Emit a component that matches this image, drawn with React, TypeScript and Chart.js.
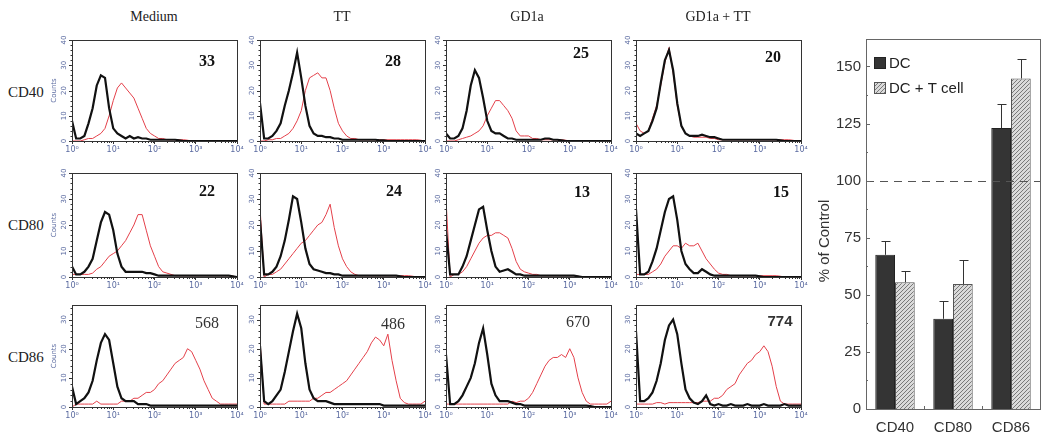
import React, { useEffect, useRef } from 'react';
import { Chart, registerables } from 'chart.js';

Chart.register(...registerables);

// ---------- DATA ----------
// histogram bins in log10 units (10^0 .. 10^4)
const BINS = [0, 0.1, 0.2, 0.3, 0.4, 0.5, 0.6, 0.7, 0.8, 0.9, 1, 1.1, 1.2, 1.3, 1.4, 1.5, 1.6, 1.7, 1.8, 1.9, 2, 2.1, 2.2, 2.3, 2.4, 2.5, 2.6, 2.7, 2.8, 2.9, 3, 3.1, 3.2, 3.3, 3.4, 3.5, 3.6, 3.7, 3.8, 3.9, 4];
const X_TICK_LABELS = ['10\u2070', '10\u00B9', '10\u00B2', '10\u00B3', '10\u2074'];
const CONDITIONS = ['Medium', 'TT', 'GD1a', 'GD1a + TT'];
const MARKERS = ['CD40', 'CD80', 'CD86'];
const MFI_LABELS = [
  ['33', '28', '25', '20'],
  ['22', '24', '13', '15'],
  ['568', '486', '670', '774'],
];
const ROW_Y_MAX = [40, 40, 35];

const CD40_MEDIUM_BLACK = [8, 1, 1, 2, 7, 13, 22, 26, 25, 13, 5, 3, 2, 1, 2, 1, 1.5, 1, 1, 0.5, 0.5, 0.5, 0.5, 0.5, 0.5, 0.5, 0.3, 0, 0, 0, 0, 0, 0, 0, 0, 0, 0, 0, 0, 0, 0];
const CD40_MEDIUM_RED = [0, 0, 0, 0.5, 1, 1, 2, 3, 5, 10, 16, 21, 23, 21, 19, 17, 13, 9, 5, 3, 2, 1, 1, 0.5, 0.5, 0.5, 0.5, 0.5, 0.3, 0, 0, 0, 0, 0, 0, 0, 0, 0, 0, 0, 0];
const CD40_TT_BLACK = [15, 1, 1, 2, 4, 7, 14, 20, 27, 35, 25, 14, 6, 3, 2, 2, 1.5, 1.5, 1, 1, 0.5, 0.5, 0.5, 0.5, 0.5, 0.5, 0.5, 0.5, 0.5, 0.3, 0.3, 0, 0, 0, 0, 0, 0, 0, 0, 0, 0];
const CD40_TT_RED = [0, 0, 0.5, 0.5, 1, 1, 2, 3, 5, 8, 12, 20, 25, 26, 27, 25, 25, 20, 13, 7, 4, 2, 1, 1, 0.5, 0.5, 0.5, 0.5, 0.5, 0.5, 0.5, 0.5, 0.5, 0.5, 0.5, 0.5, 0.5, 0.5, 0.5, 0.3, 0];
const CD40_GD1A_BLACK = [3, 1, 1, 2, 5, 12, 22, 28, 25, 17, 8, 4, 3, 3, 2, 1, 1, 0.5, 0.5, 0.5, 0.5, 0.5, 0.5, 0.5, 1, 1, 0.5, 0.5, 0.3, 0, 0, 0, 0, 0, 0, 0, 0, 0, 0, 0, 0];
const CD40_GD1A_RED = [0, 0, 0, 0.5, 1, 1.5, 2, 3, 4, 6, 10, 13, 16, 16, 14, 12, 9, 4, 2, 2, 2, 1, 1, 0.5, 0.5, 0.5, 0.5, 0.5, 0.5, 0.3, 0, 0, 0, 0, 0, 0, 0, 0, 0, 0, 0];
const CD40_GD1ATT_BLACK = [3, 2, 3, 4, 8, 13, 23, 32, 36, 28, 15, 6, 3, 2, 2, 2, 2.5, 2, 1.5, 1.5, 1, 0.5, 0.5, 0.5, 0.5, 0.5, 0.5, 0.5, 0.5, 0.5, 0.5, 0.5, 0.5, 0.5, 0.5, 0.3, 0, 0, 0, 0, 0];
const CD40_GD1ATT_RED = [7, 4, 3, 4, 9, 14, 22, 31, 37, 27, 14, 6, 3, 2, 1.5, 1.5, 1.5, 1.5, 1, 1, 0.5, 0.5, 0.5, 0.5, 0.5, 0.5, 0.5, 0.5, 0.5, 0.5, 0.5, 0.5, 0.5, 0.5, 0.5, 0.5, 0.5, 0.5, 0.3, 0, 0];

const CD80_MEDIUM_BLACK = [4, 1, 1, 2, 4, 7, 14, 21, 25, 24, 18, 9, 4, 2, 2, 2, 2, 2, 1.5, 1.5, 1, 0.5, 0.5, 0.5, 0.5, 0.5, 0.5, 0.5, 0.5, 0.5, 0.5, 0.5, 0.5, 0.5, 0.5, 0.5, 0.5, 0.5, 0.5, 0.3, 0];
const CD80_MEDIUM_RED = [1, 1, 1, 1, 1, 1.5, 3, 4, 6, 8, 9, 10, 12, 14, 17, 20, 24, 24, 18, 12, 8, 4, 2, 1.5, 1, 0.5, 0.5, 0.5, 0.5, 0.5, 0.5, 0.5, 0.5, 0.5, 0.5, 0.5, 0.5, 0.5, 0.5, 0.3, 0];
const CD80_TT_BLACK = [22, 1, 1, 2, 4, 8, 14, 22, 31, 30, 21, 11, 5, 3, 2.5, 2, 1.5, 1.5, 1, 1, 0.5, 0.5, 0.5, 0.5, 0.5, 0.5, 0.5, 0.5, 0.5, 0.5, 0.5, 0.5, 0.5, 0.5, 0.3, 0, 0, 0, 0, 0, 0];
const CD80_TT_RED = [27, 0, 1, 1, 2, 3, 5, 7, 9, 11, 13, 14, 16, 18, 20, 21, 24, 28, 19, 12, 7, 4, 2, 1, 0.5, 0.5, 0.5, 0.5, 0.5, 0.5, 0.5, 0.5, 0.5, 0.5, 0.5, 0.5, 0.5, 0.3, 0, 0, 0];
const CD80_GD1A_BLACK = [18, 1, 1, 1, 4, 8, 14, 20, 26, 27, 18, 10, 4, 2, 2.5, 3, 2, 1, 1, 0.5, 0.5, 0.5, 0.5, 0.5, 0.5, 0.5, 0.5, 0.5, 0.5, 0.5, 0.5, 0.5, 0.3, 0, 0, 0, 0, 0, 0, 0, 0];
const CD80_GD1A_RED = [30, 0, 1, 1, 2, 4, 7, 10, 13, 15, 16, 16, 17, 17, 16, 15, 11, 6, 3, 2, 1.5, 1, 1, 0.5, 0.5, 0.5, 0.5, 0.5, 0.5, 0.5, 0.5, 0.5, 0.3, 0, 0, 0, 0, 0, 0, 0, 0];
const CD80_GD1ATT_BLACK = [26, 1, 1, 2, 6, 11, 18, 25, 30, 31, 22, 10, 5, 3, 1.5, 1.5, 3, 2, 1, 0.5, 0.5, 0.5, 0.5, 0.5, 0.5, 0.5, 0.5, 0.5, 0.5, 0.5, 0.3, 0, 0, 0, 0, 0, 0, 0, 0, 0, 0];
const CD80_GD1ATT_RED = [1, 1, 1, 1, 2, 3, 5, 8, 10, 12, 12, 11, 13, 12, 12, 13, 10, 7, 5, 3, 1.5, 1, 1, 0.5, 0.5, 0.5, 0.5, 0.5, 0.5, 0.5, 0.5, 0.5, 0.5, 0.5, 0.5, 0.3, 0, 0, 0, 0, 0];

const CD86_MEDIUM_BLACK = [7, 1, 2, 3, 5, 9, 16, 22, 25, 23, 15, 7, 3, 2, 2, 2, 1, 1, 1, 0.5, 0.5, 0.5, 0.5, 0.5, 0.5, 0.5, 0.5, 0.5, 0.5, 0.5, 0.5, 0.5, 0.5, 0.5, 0.5, 0.5, 0.5, 0.5, 0.5, 0.5, 0.5];
const CD86_MEDIUM_RED = [0, 1, 1, 1, 1, 1, 2, 1, 1, 1, 1, 1, 2, 2, 2, 3, 3, 4, 5, 5, 6, 8, 9, 11, 13, 15, 16, 17, 20, 19, 16, 13, 9, 6, 3, 2, 1, 1, 1, 1, 1];
const CD86_TT_BLACK = [21, 2, 1, 2, 4, 6, 12, 19, 26, 32, 27, 15, 6, 3, 2, 2, 2, 1.5, 1, 1, 1, 1, 1, 1, 1, 1, 1, 1, 1, 1, 0.5, 0.5, 0.5, 0.5, 0.5, 0.5, 0.5, 0.5, 0.5, 0.5, 0.5];
const CD86_TT_RED = [23, 1, 1, 1, 1, 1, 1, 2, 2, 2, 2, 2, 2, 3, 3, 4, 5, 5, 6, 7, 8, 9, 11, 13, 15, 17, 19, 22, 24, 23, 21, 25, 16, 9, 3, 1.5, 1, 1, 1, 1, 2];
const CD86_GD1A_BLACK = [18, 1, 1, 2, 4, 7, 10, 15, 22, 27, 18, 8, 4, 2, 2, 2, 1.5, 1, 1, 0.5, 0.5, 0.5, 0.5, 0.5, 0.5, 0.5, 0.5, 0.5, 0.5, 0.5, 0.5, 0.5, 0.5, 0.5, 0.5, 0.3, 0, 0, 0, 0, 0];
const CD86_GD1A_RED = [1, 1, 1, 1, 1, 1, 1, 1, 1, 1, 1, 1, 1, 1, 1, 1, 2, 1.5, 2, 2, 3, 5, 8, 11, 14, 16, 17, 17, 18, 17, 20, 17, 10, 5, 2, 1, 1, 1, 1, 1, 2];
const CD86_GD1ATT_BLACK = [26, 2, 2, 3, 5, 9, 15, 23, 28, 30, 25, 15, 6, 3, 1.5, 1, 2, 4, 1, 0.5, 1, 0.5, 0.5, 1, 0.5, 0.5, 0.5, 1, 0.5, 0.5, 0.5, 1, 0.5, 0.5, 0.5, 0.5, 1, 0.5, 0.5, 0.5, 0.5];
const CD86_GD1ATT_RED = [1, 1, 1, 1, 1, 1.5, 1.5, 1, 1.5, 1.5, 1.5, 1.5, 1.5, 1.5, 1.5, 1.5, 2, 2, 2, 3, 3, 4, 6, 7, 8, 11, 13, 15, 16, 18, 19, 21, 19, 14, 7, 2, 1, 1, 1, 1, 1];

const PANELS = [
  [[CD40_MEDIUM_BLACK, CD40_MEDIUM_RED], [CD40_TT_BLACK, CD40_TT_RED], [CD40_GD1A_BLACK, CD40_GD1A_RED], [CD40_GD1ATT_BLACK, CD40_GD1ATT_RED]],
  [[CD80_MEDIUM_BLACK, CD80_MEDIUM_RED], [CD80_TT_BLACK, CD80_TT_RED], [CD80_GD1A_BLACK, CD80_GD1A_RED], [CD80_GD1ATT_BLACK, CD80_GD1ATT_RED]],
  [[CD86_MEDIUM_BLACK, CD86_MEDIUM_RED], [CD86_TT_BLACK, CD86_TT_RED], [CD86_GD1A_BLACK, CD86_GD1A_RED], [CD86_GD1ATT_BLACK, CD86_GD1ATT_RED]],
];

// bar chart
const BAR_CATEGORIES = ['CD40', 'CD80', 'CD86'];
const DC_VALUES = [67.5, 39.5, 123];
const DC_ERRORS = [6, 7.8, 10.5];
const DCT_VALUES = [55.5, 54.7, 144.7];
const DCT_ERRORS = [5, 10.4, 8.6];
const BAR_SERIES_LABELS = ['DC', 'DC + T cell'];
const BAR_Y_TITLE = '% of Control';
const BAR_Y_MAX = 162;
const BAR_Y_STEP = 25;
const REFERENCE_LEVEL = 100;

// ---------- LAYOUT ----------
const COL_LEFT = [72, 260, 446, 636];
const PLOT_W = 165;
const ROW_TOP = [40, 173, 305];
const ROW_H = [101, 104, 102];
const AXIS_W = 24;
const AXIS_H = 16;
const PAD_TOP = 5;
const PAD_RIGHT = 9;
const TITLE_X = [154, 342, 527, 718];
const MFI_POS = [
  [[207, 61], [393, 61], [581, 53], [773, 57]],
  [[207, 191], [394, 191], [582, 192], [781, 192]],
  [[207, 323], [393, 324], [578, 322], [780, 320]],
];
const ROW_LABEL_Y = [92, 225, 357];
const BAR_CANVAS = { left: 812, top: 25, width: 236, height: 418 };
const BAR_TITLE_X = 13;
const BAR_TITLE_DY = 17;

const SERIF = "'Liberation Serif', 'Times New Roman', serif";
const SANS = "'Liberation Sans', Arial, sans-serif";
const AXIS_BLUE = '#5a6aa0';

const panelDecor = {
  id: 'panelDecor',
  afterDraw(chart: any, _args: any, opts: any) {
    const { ctx, chartArea: a, scales } = chart;
    const x = scales.x;
    const y = scales.y;
    ctx.save();
    ctx.strokeStyle = '#333';
    ctx.lineWidth = 1;
    ctx.strokeRect(Math.round(a.left) + 0.5, Math.round(a.top) + 0.5, Math.round(a.right - a.left), Math.round(a.bottom - a.top));
    ctx.beginPath();
    for (let d = 0; d < 4; d++) {
      for (let k = 2; k < 10; k++) {
        const px = Math.round(x.getPixelForValue(d + Math.log10(k))) + 0.5;
        ctx.moveTo(px, a.bottom);
        ctx.lineTo(px, a.bottom + 2);
      }
    }
    for (let v = 0; v <= y.max; v += 2) {
      const py = Math.round(y.getPixelForValue(v)) + 0.5;
      const len = v % 10 === 0 ? 3 : 1.5;
      ctx.moveTo(a.left, py);
      ctx.lineTo(a.left - len, py);
    }
    ctx.stroke();
    ctx.fillStyle = AXIS_BLUE;
    ctx.font = "7px 'DejaVu Sans'";
    ctx.textAlign = 'center';
    ctx.textBaseline = 'middle';
    y.ticks.forEach((t: any) => {
      if (t.value % 10 !== 0) return;
      const py = y.getPixelForValue(t.value);
      ctx.save();
      ctx.translate(a.left - 8, py);
      ctx.rotate(-Math.PI / 2);
      ctx.fillText(String(t.value), 0, 0);
      ctx.restore();
    });
    if (opts && opts.counts) {
      ctx.save();
      ctx.translate(a.left - 18, (a.top + a.bottom) / 2);
      ctx.rotate(-Math.PI / 2);
      ctx.fillText('Counts', 0, 0);
      ctx.restore();
    }
    ctx.restore();
  },
};

function histConfig(black: number[], red: number[], row: number, col: number): any {
  return {
    type: 'line',
    data: {
      datasets: [
        { data: BINS.map((x, i) => ({ x, y: black[i] })), borderColor: '#111', borderWidth: 2.2, pointRadius: 0, tension: 0 },
        { data: BINS.map((x, i) => ({ x, y: red[i] })), borderColor: '#e4404a', borderWidth: 1, pointRadius: 0, tension: 0 },
      ],
    },
    options: {
      animation: false,
      responsive: false,
      maintainAspectRatio: false,
      events: [],
      layout: { padding: { left: 0, right: PAD_RIGHT, top: PAD_TOP, bottom: 0 } },
      plugins: { legend: { display: false }, tooltip: { enabled: false }, panelDecor: { counts: col === 0 } },
      scales: {
        x: {
          type: 'linear',
          min: 0,
          max: 4,
          ticks: {
            stepSize: 1,
            autoSkip: false,
            maxRotation: 0,
            minRotation: 0,
            padding: 1,
            color: AXIS_BLUE,
            font: { size: 8, family: 'DejaVu Sans' },
            callback: (v: number) => X_TICK_LABELS[v] ?? '',
          },
          grid: { drawOnChartArea: false, drawTicks: true, tickLength: 3, color: '#333' },
          border: { display: false },
          afterFit: (s: any) => { s.height = AXIS_H; },
        },
        y: {
          min: 0,
          max: ROW_Y_MAX[row],
          ticks: { display: false, stepSize: 10 },
          grid: { display: false },
          border: { display: false },
          afterFit: (s: any) => { s.width = AXIS_W; },
        },
      },
    },
    plugins: [panelDecor],
  };
}

function makeHatch(): CanvasPattern | string {
  const c = document.createElement('canvas');
  c.width = 4;
  c.height = 4;
  const g = c.getContext('2d');
  if (!g) return '#ccc';
  g.fillStyle = '#dadada';
  g.fillRect(0, 0, 4, 4);
  g.strokeStyle = '#6e6e6e';
  g.lineWidth = 0.9;
  g.beginPath();
  g.moveTo(0, 4); g.lineTo(4, 0);
  g.moveTo(-1, 1); g.lineTo(1, -1);
  g.moveTo(3, 5); g.lineTo(5, 3);
  g.stroke();
  const p = g.createPattern(c, 'repeat');
  return p || '#ccc';
}

const barDecor = {
  id: 'barDecor',
  afterDraw(chart: any) {
    const { ctx, chartArea: a, scales } = chart;
    const y = scales.y;
    const x = scales.x;
    ctx.save();
    // reference line
    const yr = Math.round(y.getPixelForValue(REFERENCE_LEVEL)) + 0.5;
    ctx.strokeStyle = '#555';
    ctx.lineWidth = 1;
    ctx.setLineDash([8, 6]);
    ctx.beginPath();
    ctx.moveTo(a.left, yr);
    ctx.lineTo(a.right, yr);
    ctx.stroke();
    ctx.setLineDash([]);
    // error bars
    const errs = [DC_ERRORS, DCT_ERRORS];
    const vals = [DC_VALUES, DCT_VALUES];
    ctx.strokeStyle = '#333';
    ctx.beginPath();
    chart.data.datasets.forEach((_d: any, i: number) => {
      const meta = chart.getDatasetMeta(i);
      meta.data.forEach((bar: any, j: number) => {
        const xc = Math.round(bar.x) + 0.5;
        const yTop = Math.round(y.getPixelForValue(vals[i][j] + errs[i][j])) + 0.5;
        ctx.moveTo(xc, bar.y);
        ctx.lineTo(xc, yTop);
        ctx.moveTo(xc - 4, yTop);
        ctx.lineTo(xc + 5, yTop);
      });
    });
    ctx.stroke();
    // frame
    ctx.strokeStyle = '#666';
    ctx.strokeRect(Math.round(a.left) + 0.5, Math.round(a.top) + 0.5, Math.round(a.right - a.left), Math.round(a.bottom - a.top));
    // inner ticks
    ctx.beginPath();
    for (let v = 0; v <= 150; v += 12.5) {
      const py = Math.round(y.getPixelForValue(v)) + 0.5;
      const len = v % 25 === 0 ? 4 : 2;
      ctx.moveTo(a.left, py);
      ctx.lineTo(a.left + len, py);
    }
    for (let j = 0; j < BAR_CATEGORIES.length - 1; j++) {
      const px = Math.round((x.getPixelForValue(j) + x.getPixelForValue(j + 1)) / 2) + 0.5;
      ctx.moveTo(px, a.bottom);
      ctx.lineTo(px, a.bottom - 3);
    }
    ctx.stroke();
    // y-axis title
    ctx.save();
    ctx.fillStyle = '#333';
    ctx.font = `15px ${SANS}`;
    ctx.textAlign = 'center';
    ctx.textBaseline = 'middle';
    ctx.translate(BAR_TITLE_X, (a.top + a.bottom) / 2 + BAR_TITLE_DY);
    ctx.rotate(-Math.PI / 2);
    ctx.fillText(BAR_Y_TITLE, 0, 0);
    ctx.restore();
    // legend
    ctx.font = `15px ${SANS}`;
    ctx.textBaseline = 'middle';
    ctx.textAlign = 'left';
    chart.data.datasets.forEach((d: any, i: number) => {
      const bx = a.left + 8;
      const by = a.top + 18 + i * 25;
      ctx.fillStyle = d.backgroundColor;
      ctx.fillRect(bx, by, 12, 12);
      ctx.strokeStyle = d.borderColor;
      ctx.strokeRect(bx + 0.5, by + 0.5, 11, 11);
      ctx.fillStyle = '#222';
      ctx.fillText(d.label, bx + 15, by + 6.5);
    });
    ctx.restore();
  },
};

function barConfig(): any {
  const hatch = makeHatch();
  return {
    type: 'bar',
    data: {
      labels: BAR_CATEGORIES,
      datasets: [
        { label: BAR_SERIES_LABELS[0], data: DC_VALUES, backgroundColor: '#343434', borderColor: '#222', borderWidth: 1, categoryPercentage: 0.68, barPercentage: 1 },
        { label: BAR_SERIES_LABELS[1], data: DCT_VALUES, backgroundColor: hatch, borderColor: '#555', borderWidth: 1, categoryPercentage: 0.68, barPercentage: 1 },
      ],
    },
    options: {
      animation: false,
      responsive: false,
      maintainAspectRatio: false,
      events: [],
      layout: { padding: { left: 0, right: 8, top: 10, bottom: 0 } },
      plugins: { legend: { display: false }, tooltip: { enabled: false } },
      scales: {
        x: {
          grid: { display: false, drawTicks: false },
          border: { display: false },
          ticks: { color: '#333', padding: 10, font: { size: 15, family: SANS } },
          afterFit: (s: any) => { s.height = 34; },
        },
        y: {
          min: 0,
          max: BAR_Y_MAX,
          ticks: { stepSize: BAR_Y_STEP, includeBounds: false, color: '#333', padding: 5, font: { size: 15, family: SANS } },
          grid: { display: false, drawTicks: false },
          border: { display: false },
          afterFit: (s: any) => { s.width = 54; },
        },
      },
    },
    plugins: [barDecor],
  };
}

export default function App() {
  const histRefs = useRef<(HTMLCanvasElement | null)[]>([]);
  const barRef = useRef<HTMLCanvasElement | null>(null);

  useEffect(() => {
    const charts: Chart[] = [];
    PANELS.forEach((rowArr, r) => {
      rowArr.forEach(([black, red], c) => {
        const cv = histRefs.current[r * 4 + c];
        if (cv) charts.push(new Chart(cv, histConfig(black, red, r, c)));
      });
    });
    if (barRef.current) charts.push(new Chart(barRef.current, barConfig()));
    return () => charts.forEach((ch) => ch.destroy());
  }, []);

  const canvases: React.ReactNode[] = [];
  PANELS.forEach((rowArr, r) => {
    rowArr.forEach((_p, c) => {
      const w = PLOT_W + AXIS_W + PAD_RIGHT;
      const h = ROW_H[r] + PAD_TOP + AXIS_H;
      canvases.push(
        <canvas
          key={`h${r}${c}`}
          ref={(el) => { histRefs.current[r * 4 + c] = el; }}
          width={w}
          height={h}
          style={{ position: 'absolute', left: COL_LEFT[c] - AXIS_W, top: ROW_TOP[r] - PAD_TOP, width: w, height: h }}
        />
      );
    });
  });

  return (
    <div style={{ position: 'absolute', left: 0, top: 0, width: 1050, height: 447, background: '#fff', overflow: 'hidden' }}>
      {canvases}
      <canvas ref={barRef} width={BAR_CANVAS.width} height={BAR_CANVAS.height} style={{ position: 'absolute', left: BAR_CANVAS.left, top: BAR_CANVAS.top, width: BAR_CANVAS.width, height: BAR_CANVAS.height }} />
      {CONDITIONS.map((t, c) => (
        <div key={t} style={{ position: 'absolute', left: TITLE_X[c], top: 17, transform: 'translate(-50%, -50%)', fontFamily: SERIF, fontSize: 14, color: '#222', whiteSpace: 'nowrap' }}>{t}</div>
      ))}
      {MARKERS.map((m, r) => (
        <div key={m} style={{ position: 'absolute', left: 8, top: ROW_LABEL_Y[r], transform: 'translateY(-50%)', fontFamily: SERIF, fontSize: 15, color: '#222', whiteSpace: 'nowrap' }}>{m}</div>
      ))}
      {MFI_LABELS.map((rowArr, r) => rowArr.map((t, c) => (
        <div key={`m${r}${c}`} style={{ position: 'absolute', left: MFI_POS[r][c][0], top: MFI_POS[r][c][1], transform: 'translate(-50%, -50%)', fontFamily: r === 2 && c === 3 ? SANS : SERIF, fontSize: r === 2 && c === 3 ? 15 : 16, fontWeight: r < 2 || c === 3 ? 'bold' : 'normal', color: r === 2 ? '#333' : '#111', whiteSpace: 'nowrap' }}>{t}</div>
      )))}
    </div>
  );
}
